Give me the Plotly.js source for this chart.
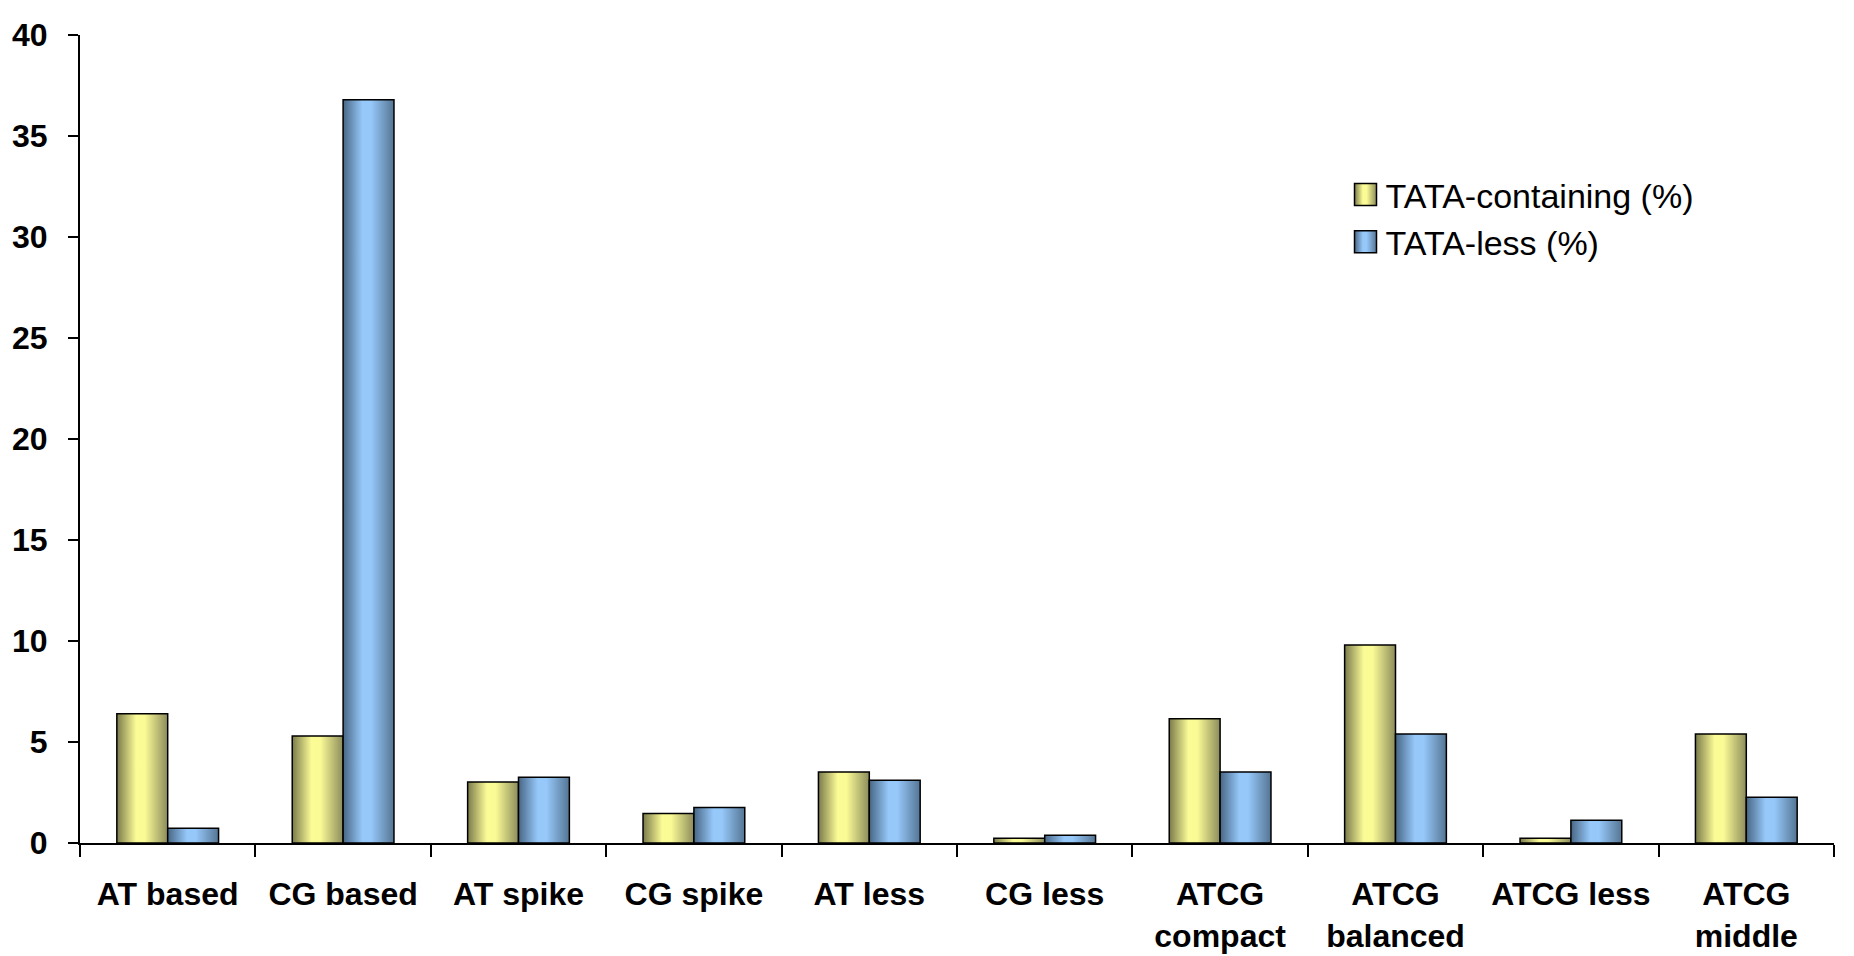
<!DOCTYPE html>
<html>
<head>
<meta charset="utf-8">
<script src="https://cdn.plot.ly/plotly-3.0.1.min.js"></script>
<style>
  html, body { margin: 0; padding: 0; background: #fff; }
  #chart { width: 1854px; height: 956px; }
</style>
</head>
<body>
<div id="chart"></div>
<script>
const categories = [
  "AT based", "CG based", "AT spike", "CG spike", "AT less",
  "CG less", "ATCG<br>compact", "ATCG<br>balanced", "ATCG less", "ATCG<br>middle"
];
const tataContaining = [6.4, 5.3, 3.02, 1.46, 3.52, 0.23, 6.15, 9.8, 0.23, 5.4];
const tataLess = [0.73, 36.8, 3.26, 1.76, 3.11, 0.38, 3.52, 5.4, 1.13, 2.26];
const yTicks = [0, 5, 10, 15, 20, 25, 30, 35, 40];

const FONT = "'Liberation Sans', Arial, sans-serif";

const barTrace = (name, values, color, group) => ({
  type: "bar",
  name: name,
  x: categories,
  y: values,
  legendgroup: group,
  marker: { color: color, line: { color: "#000", width: 1.5 } },
  hoverinfo: "x+y",
});

const data = [
  barTrace("TATA-containing (%)", tataContaining, "#e6e680", "a"),
  barTrace("TATA-less (%)", tataLess, "#86b4e0", "b"),
];

const layout = {
  width: 1854,
  height: 956,
  margin: { l: 80, r: 20, t: 35, b: 113 },
  paper_bgcolor: "#fff",
  plot_bgcolor: "#fff",
  barmode: "group",
  bargap: 0.42,
  bargroupgap: 0,
  showlegend: true,
  font: { family: FONT, color: "#000" },
  legend: {
    x: 0.7215,
    y: 0.838,
    xanchor: "left",
    yanchor: "top",
    bgcolor: "rgba(0,0,0,0)",
    font: { size: 34, family: FONT, color: "#000" },
    tracegroupgap: 2,
    traceorder: "normal",
  },
  xaxis: {
    type: "category",
    showline: true,
    linecolor: "#000",
    linewidth: 2,
    ticks: "outside",
    tickson: "boundaries",
    ticklen: 12,
    tickwidth: 2,
    tickcolor: "#000",
    ticklabelstandoff: 22,
    showgrid: false,
    zeroline: false,
    tickfont: { size: 32, family: FONT, weight: "bold", color: "#000" },
    fixedrange: true,
  },
  yaxis: {
    range: [0, 40],
    tickvals: yTicks,
    showline: true,
    linecolor: "#000",
    linewidth: 2,
    ticks: "outside",
    ticklen: 10,
    tickwidth: 2,
    tickcolor: "#000",
    ticklabelstandoff: 14,
    showgrid: false,
    zeroline: false,
    tickfont: { size: 32, family: FONT, weight: "bold", color: "#000" },
    fixedrange: true,
  },
};

const addGradients = (gd) => {
  const svg = gd.querySelector(".main-svg");
  const defs = svg.querySelector("defs");
  const NS = "http://www.w3.org/2000/svg";
  const grads = {
    gradYellow: [["0%", "#7a7a4b"], ["38%", "#fcfc97"], ["55%", "#fbfb96"], ["100%", "#8c8c5c"]],
    gradBlue: [["0%", "#486684"], ["38%", "#96c8fa"], ["55%", "#96c8fa"], ["100%", "#557593"]],
  };
  Object.entries(grads).forEach(([id, stops]) => {
    const g = document.createElementNS(NS, "linearGradient");
    g.setAttribute("id", id);
    g.setAttribute("x1", "0");
    g.setAttribute("x2", "1");
    g.setAttribute("y1", "0");
    g.setAttribute("y2", "0");
    stops.forEach(([off, col]) => {
      const s = document.createElementNS(NS, "stop");
      s.setAttribute("offset", off);
      s.setAttribute("stop-color", col);
      g.appendChild(s);
    });
    defs.appendChild(g);
  });
  const ids = ["gradYellow", "gradBlue"];
  gd.querySelectorAll(".barlayer .trace.bars").forEach((tr, i) => {
    tr.querySelectorAll(".point path").forEach((p) => {
      p.style.fill = `url(#${ids[i]})`;
    });
  });
  gd.querySelectorAll(".legend .traces").forEach((tr, i) => {
    tr.querySelectorAll(".legendpoints path").forEach((p) => {
      p.setAttribute("d", "M11,11H-11V-11H11Z");
      p.style.fill = `url(#${ids[i]})`;
      p.style.stroke = "#000";
      p.style.strokeWidth = "1.5px";
    });
  });
};

Plotly.newPlot("chart", data, layout, { staticPlot: true }).then(addGradients);
</script>
</body>
</html>
